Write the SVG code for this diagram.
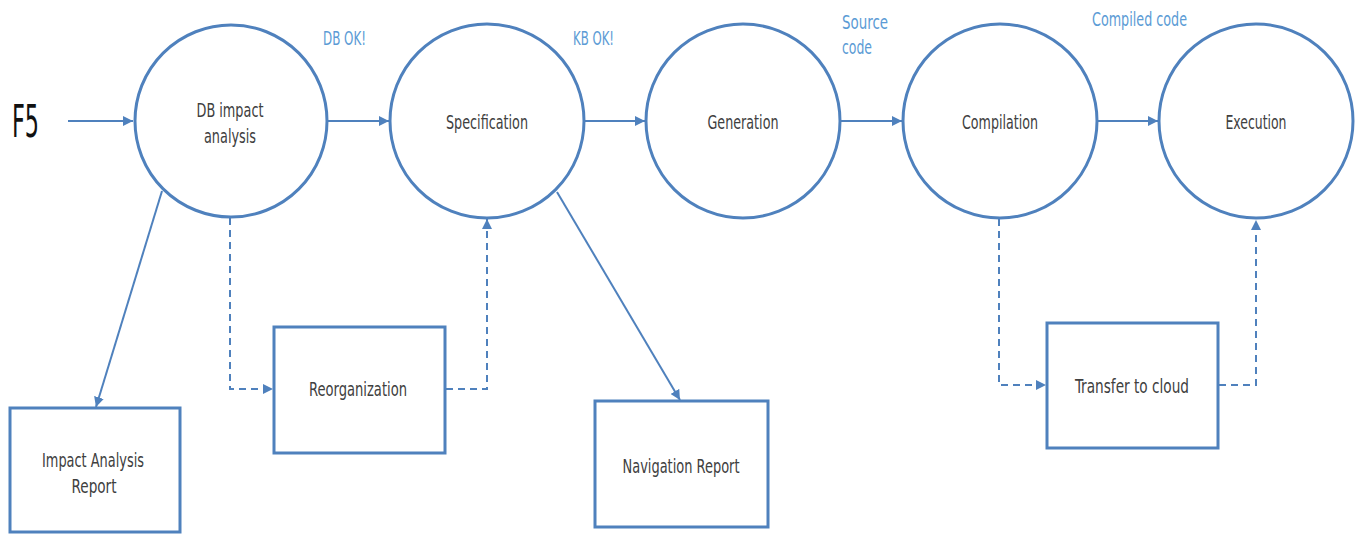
<svg xmlns="http://www.w3.org/2000/svg" width="1360" height="535" viewBox="0 0 1360 535">
<style>
.node{fill:#fff;stroke:#4f81bd;stroke-width:3}
.t{font-family:"DejaVu Sans Condensed","Liberation Sans Narrow","Liberation Sans",sans-serif;font-size:20px;fill:#404040;text-anchor:middle}
.lbl{font-family:"DejaVu Sans Condensed","Liberation Sans Narrow","Liberation Sans",sans-serif;font-size:20px;fill:#5b9bd5;text-anchor:start}
.c{fill:none;stroke:#4f81bd;stroke-width:2}
.d{fill:none;stroke:#4f81bd;stroke-width:2;stroke-dasharray:7 5}
</style>
<defs>
<marker id="ah" viewBox="0 0 10 10" refX="10" refY="5" markerWidth="5" markerHeight="5" orient="auto" markerUnits="strokeWidth">
<path d="M0,0 L10,5 L0,10 z" fill="#4f81bd"/>
</marker>
</defs>
<rect width="1360" height="535" fill="#fff"/>
<g id="connectors">
<line class="c" x1="68" y1="121" x2="133" y2="121" marker-end="url(#ah)"/>
<line class="c" x1="328" y1="121" x2="389" y2="121" marker-end="url(#ah)"/>
<line class="c" x1="585" y1="121" x2="645" y2="121" marker-end="url(#ah)"/>
<line class="c" x1="841" y1="121" x2="902" y2="121" marker-end="url(#ah)"/>
<line class="c" x1="1097" y1="121" x2="1158" y2="121" marker-end="url(#ah)"/>
<line class="c" x1="162" y1="191" x2="96" y2="407" marker-end="url(#ah)"/>
<line class="c" x1="557" y1="192" x2="680" y2="400" marker-end="url(#ah)"/>
<polyline class="d" points="230,218 230,389 273,389" marker-end="url(#ah)"/>
<polyline class="d" points="446,389 487,389 487,219" marker-end="url(#ah)"/>
<polyline class="d" points="999,219 999,385 1046,385" marker-end="url(#ah)"/>
<polyline class="d" points="1219,385 1256,385 1256,220" marker-end="url(#ah)"/>
</g>
<g id="labels">
<text x="12" y="137" style="font-family:'DejaVu Sans Condensed','Liberation Sans Narrow','Liberation Sans',sans-serif;font-size:44px;fill:#111" textLength="27" lengthAdjust="spacingAndGlyphs">F5</text>
<text class="lbl" x="323" y="45" textLength="43" lengthAdjust="spacingAndGlyphs">DB OK!</text>
<text class="lbl" x="573" y="45" textLength="41" lengthAdjust="spacingAndGlyphs">KB OK!</text>
<text class="lbl" x="842" y="29" textLength="46" lengthAdjust="spacingAndGlyphs">Source</text>
<text class="lbl" x="842" y="54" textLength="30" lengthAdjust="spacingAndGlyphs">code</text>
<text class="lbl" x="1092" y="26" textLength="95" lengthAdjust="spacingAndGlyphs">Compiled code</text>
</g>
<g id="n-db">
<circle class="node" cx="231" cy="121" r="96"/>
<text class="t" x="230" y="117" textLength="67" lengthAdjust="spacingAndGlyphs">DB impact</text>
<text class="t" x="230" y="143" textLength="52" lengthAdjust="spacingAndGlyphs">analysis</text>
</g>
<g id="n-spec">
<circle class="node" cx="487" cy="121" r="97"/>
<text class="t" x="487" y="129" textLength="82" lengthAdjust="spacingAndGlyphs">Specification</text>
</g>
<g id="n-gen">
<circle class="node" cx="743" cy="121" r="97"/>
<text class="t" x="743" y="129" textLength="71" lengthAdjust="spacingAndGlyphs">Generation</text>
</g>
<g id="n-comp">
<circle class="node" cx="1000" cy="121" r="97"/>
<text class="t" x="1000" y="129" textLength="76" lengthAdjust="spacingAndGlyphs">Compilation</text>
</g>
<g id="n-exec">
<circle class="node" cx="1256" cy="121" r="97"/>
<text class="t" x="1256" y="129" textLength="61" lengthAdjust="spacingAndGlyphs">Execution</text>
</g>
<g id="n-iar">
<rect class="node" x="10" y="408" width="170" height="124"/>
<text class="t" x="93" y="467" textLength="102" lengthAdjust="spacingAndGlyphs">Impact Analysis</text>
<text class="t" x="94" y="493" textLength="45" lengthAdjust="spacingAndGlyphs">Report</text>
</g>
<g id="n-reorg">
<rect class="node" x="274" y="327" width="171" height="126"/>
<text class="t" x="358" y="396" textLength="98" lengthAdjust="spacingAndGlyphs">Reorganization</text>
</g>
<g id="n-nav">
<rect class="node" x="595" y="401" width="173" height="126"/>
<text class="t" x="681" y="473" textLength="117" lengthAdjust="spacingAndGlyphs">Navigation Report</text>
</g>
<g id="n-cloud">
<rect class="node" x="1047" y="323" width="171" height="125"/>
<text class="t" x="1132" y="393" textLength="114" lengthAdjust="spacingAndGlyphs">Transfer to cloud</text>
</g>
</svg>
